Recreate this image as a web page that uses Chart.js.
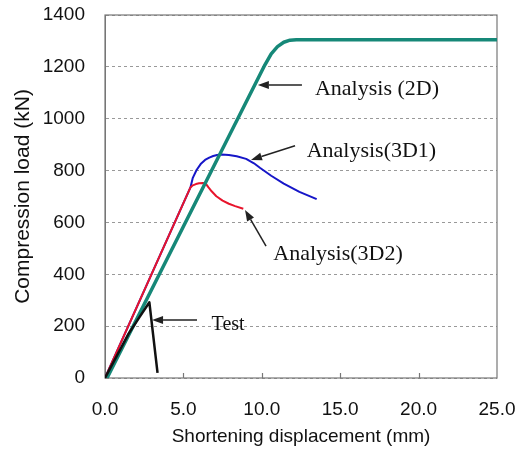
<!DOCTYPE html>
<html>
<head>
<meta charset="utf-8">
<script src="https://cdn.jsdelivr.net/npm/chart.js@4.4.1/dist/chart.umd.min.js"></script>
<style>
  html, body { margin: 0; padding: 0; background: #fff; }
  #wrap { width: 515px; height: 452px; }
</style>
</head>
<body>
<div id="wrap"><canvas id="c"></canvas></div>
<script>
// values (displacement mm, load kN)
const dispTest = [0, 1.5, 2.2, 2.83, 3.35];
const loadTest = [0, 170, 235, 292, 20];

const disp2D = [0.13, 5.0, 10.2, 10.6, 11.0, 11.4, 11.8, 12.2, 25];
const load2D = [0, 584, 1208, 1250, 1278, 1295, 1303, 1305, 1305];

const disp3D1 = [0, 5.45, 5.6, 5.84, 6.1, 6.38, 6.65, 6.9, 7.15, 7.44, 7.9, 8.4, 9.0, 9.5, 9.9, 10.6, 11.4, 12.4, 13.5];
const load3D1 = [0, 735, 772, 802, 825, 841, 850, 856, 860, 862, 860, 855, 845, 828, 810, 780, 750, 718, 690];

const disp3D2 = [0, 5.45, 5.6, 5.8, 6.0, 6.25, 6.45, 6.6, 6.8, 7.1, 7.5, 7.9, 8.3, 8.82];
const load3D2 = [0, 735, 743, 748, 751, 752, 748, 735, 720, 701, 684, 672, 663, 653];

const xTicks = [0, 5, 10, 15, 20, 25];
const yTicks = [0, 200, 400, 600, 800, 1000, 1200, 1400];

// callouts: label anchor, arrow tail and arrow tip in data units
const notes = [
  { text: 'Analysis (2D)', at: [13.39, 1114], from: [12.56, 1130], to: [9.75, 1130] },
  { text: 'Analysis(3D1)', at: [12.86, 875], from: [12.12, 896], to: [9.31, 841] },
  { text: 'Analysis(3D2)', at: [10.73, 478], from: [10.27, 509], to: [8.93, 648] },
  { text: 'Test', at: [6.8, 204], from: [5.87, 224], to: [3.0, 224] },
];

const pts = (xs, ys) => xs.map((x, i) => ({ x, y: ys[i] }));

const framePlugin = {
  id: 'frame',
  beforeDatasetsDraw(chart) {
    const { ctx, chartArea: a, scales: { x } } = chart;
    ctx.save();
    ctx.strokeStyle = '#777';
    ctx.lineWidth = 1.2;
    ctx.strokeRect(a.left, a.top, a.right - a.left, a.bottom - a.top);
    // short ticks pointing into the plot
    xTicks.slice(1, -1).forEach(v => {
      const px = Math.round(x.getPixelForValue(v)) + 0.5;
      ctx.beginPath();
      ctx.moveTo(px, a.bottom);
      ctx.lineTo(px, a.bottom - 5);
      ctx.stroke();
    });
    ctx.restore();
  },
  afterDatasetsDraw(chart) {
    const { ctx, scales: { x, y } } = chart;
    ctx.save();
    ctx.strokeStyle = '#222';
    ctx.lineWidth = 1.5;
    notes.forEach(n => {
      const x0 = x.getPixelForValue(n.from[0]), y0 = y.getPixelForValue(n.from[1]);
      const x1 = x.getPixelForValue(n.to[0]), y1 = y.getPixelForValue(n.to[1]);
      const ang = Math.atan2(y1 - y0, x1 - x0);
      const len = 11, half = 4;
      const bx = x1 - len * Math.cos(ang), by = y1 - len * Math.sin(ang);
      ctx.beginPath();
      ctx.moveTo(x0, y0);
      ctx.lineTo(bx, by);
      ctx.stroke();
      ctx.fillStyle = '#222';
      ctx.beginPath();
      ctx.moveTo(x1, y1);
      ctx.lineTo(bx + half * Math.sin(ang), by - half * Math.cos(ang));
      ctx.lineTo(bx - half * Math.sin(ang), by + half * Math.cos(ang));
      ctx.closePath();
      ctx.fill();
      ctx.font = (n.text === 'Test' ? '20px' : '22px') + ' "Liberation Serif", "Times New Roman", serif';
      ctx.textAlign = 'left';
      ctx.textBaseline = 'middle';
      ctx.fillStyle = '#111';
      ctx.fillText(n.text, x.getPixelForValue(n.at[0]), y.getPixelForValue(n.at[1]));
    });
    ctx.restore();
  },
};

const line = (label, data, color, width) => ({
  label, data, borderColor: color, backgroundColor: color, borderWidth: width,
  showLine: true, pointRadius: 0, tension: 0, fill: false, borderJoinStyle: 'round',
});

const sans = '"Liberation Sans", Arial, sans-serif';

new Chart(document.getElementById('c'), {
  type: 'scatter',
  data: {
    datasets: [
      line('Test', pts(dispTest, loadTest), '#111', 2.5),
      line('Analysis (2D)', pts(disp2D, load2D), '#168878', 3.5),
      line('Analysis(3D2)', pts(disp3D2, load3D2), '#e8142c', 2),
      line('Analysis(3D1)', pts(disp3D1, load3D1), '#1616c8', 2),
    ],
  },
  options: {
    responsive: true, maintainAspectRatio: false, animation: false,
    layout: { padding: { top: 15, right: 18, left: 0, bottom: 0 } },
    plugins: { legend: { display: false }, tooltip: { enabled: false } },
    scales: {
      x: {
        type: 'linear', min: 0, max: 25,
        afterBuildTicks: s => { s.ticks = xTicks.map(v => ({ value: v })); },
        afterFit: s => { s.height = 74; s.paddingLeft = 0; s.paddingRight = 0; },
        ticks: { color: '#111', font: { family: sans, size: 19 }, padding: 12, callback: v => v.toFixed(1) },
        grid: { display: false },
        border: { display: false },
        title: { display: true, text: 'Shortening displacement (mm)', color: '#111', font: { family: sans, size: 19 }, padding: { top: 0, bottom: 4 } },
      },
      y: {
        type: 'linear', min: 0, max: 1400,
        afterBuildTicks: s => { s.ticks = yTicks.map(v => ({ value: v })); },
        afterFit: s => { s.width = 105; s.paddingTop = 0; s.paddingBottom = 0; },
        ticks: { color: '#111', font: { family: sans, size: 19 }, padding: 20, callback: v => String(v) },
        grid: { color: '#999', lineWidth: 1, drawTicks: false },
        border: { display: true, color: '#777', dash: [3, 3] },
        title: { display: true, text: 'Compression load (kN)', color: '#111', font: { family: sans, size: 21 }, padding: { top: 11, bottom: 0 } },
      },
    },
  },
  plugins: [framePlugin],
});
</script>
</body>
</html>
